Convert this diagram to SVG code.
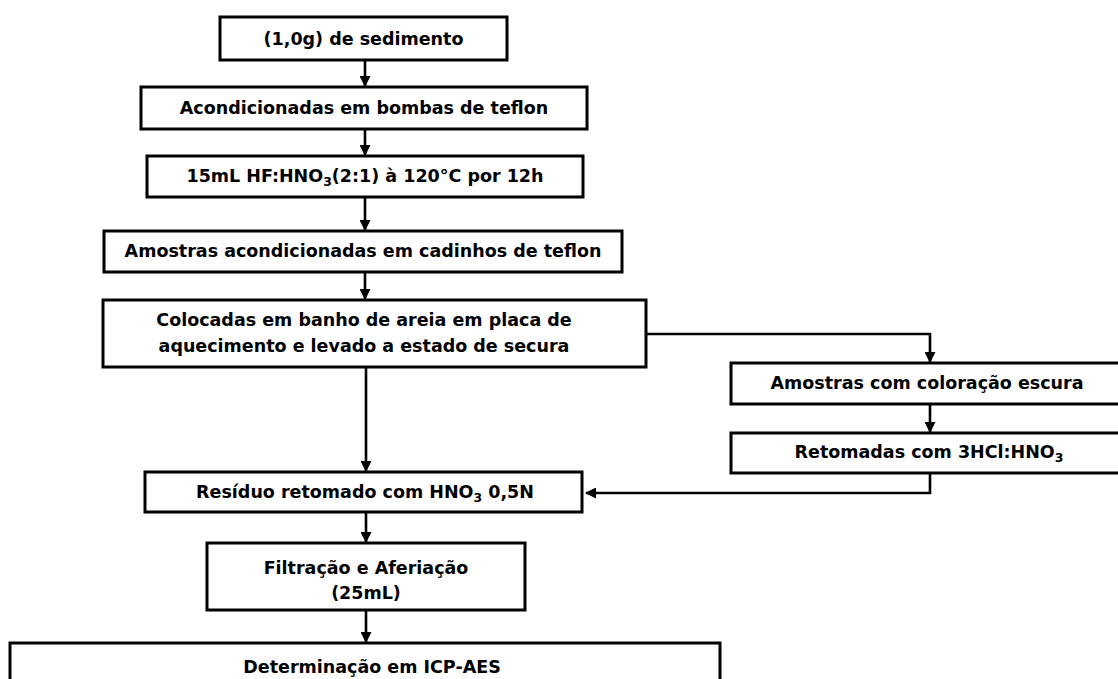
<svg xmlns="http://www.w3.org/2000/svg" width="1118" height="679" viewBox="0 0 1118 679">
<style>
.box{fill:#fff;stroke:#000;stroke-width:3}
.t{font-family:"DejaVu Sans",sans-serif;font-weight:bold;font-size:17.5px;fill:#000;text-anchor:middle}
.c{fill:none;stroke:#000;stroke-width:2.6}
.sub{font-size:12.5px}
</style>
<defs>
<marker id="ah" markerUnits="userSpaceOnUse" markerWidth="11" markerHeight="11" refX="10" refY="5.5" orient="auto">
<path d="M0,0 L11,5.5 L0,11 z" fill="#000"/>
</marker>
</defs>
<rect width="1118" height="679" fill="#fff"/>
<g id="connectors">
<line class="c" x1="365" y1="60" x2="365" y2="86" marker-end="url(#ah)"/>
<line class="c" x1="365" y1="129" x2="365" y2="155" marker-end="url(#ah)"/>
<line class="c" x1="365" y1="197" x2="365" y2="230" marker-end="url(#ah)"/>
<line class="c" x1="365" y1="272" x2="365" y2="299" marker-end="url(#ah)"/>
<polyline class="c" points="646,334 930,334 930,362" marker-end="url(#ah)"/>
<line class="c" x1="366" y1="367" x2="366" y2="471" marker-end="url(#ah)"/>
<line class="c" x1="930" y1="404" x2="930" y2="432" marker-end="url(#ah)"/>
<polyline class="c" points="930,473 930,493 586,493" marker-end="url(#ah)"/>
<line class="c" x1="366" y1="512" x2="366" y2="542" marker-end="url(#ah)"/>
<line class="c" x1="366" y1="610" x2="366" y2="642" marker-end="url(#ah)"/>
</g>
<g id="n1"><rect class="box" x="220" y="17" width="287" height="43"/><text class="t" x="363.5" y="45">(1,0g) de sedimento</text></g>
<g id="n2"><rect class="box" x="141" y="87" width="446" height="42"/><text class="t" x="364" y="114">Acondicionadas em bombas de teflon</text></g>
<g id="n3"><rect class="box" x="147" y="156" width="436" height="41"/><text class="t" x="365" y="182">15mL HF:HNO<tspan class="sub" dy="4">3</tspan><tspan dy="-4">(2:1) à 120°C por 12h</tspan></text></g>
<g id="n4"><rect class="box" x="104" y="231" width="518" height="41"/><text class="t" x="363" y="257">Amostras acondicionadas em cadinhos de teflon</text></g>
<g id="n5"><rect class="box" x="103" y="300" width="543" height="67"/><text class="t" x="364" y="326">Colocadas em banho de areia em placa de</text><text class="t" x="364" y="352">aquecimento e levado a estado de secura</text></g>
<g id="n6"><rect class="box" x="731" y="363" width="420" height="41"/><text class="t" x="927" y="389">Amostras com coloração escura</text></g>
<g id="n7"><rect class="box" x="731" y="433" width="420" height="40"/><text class="t" x="929" y="458">Retomadas com 3HCl:HNO<tspan class="sub" dy="4">3</tspan></text></g>
<g id="n8"><rect class="box" x="145" y="472" width="437" height="40"/><text class="t" x="365" y="498">Resíduo retomado com HNO<tspan class="sub" dy="4">3</tspan><tspan dy="-4"> 0,5N</tspan></text></g>
<g id="n9"><rect class="box" x="207" y="543" width="318" height="67"/><text class="t" x="366" y="574">Filtração e Aferiação</text><text class="t" x="366" y="599">(25mL)</text></g>
<g id="n10"><rect class="box" x="10" y="643" width="710" height="60"/><text class="t" x="372" y="673">Determinação em ICP-AES</text></g>
</svg>
